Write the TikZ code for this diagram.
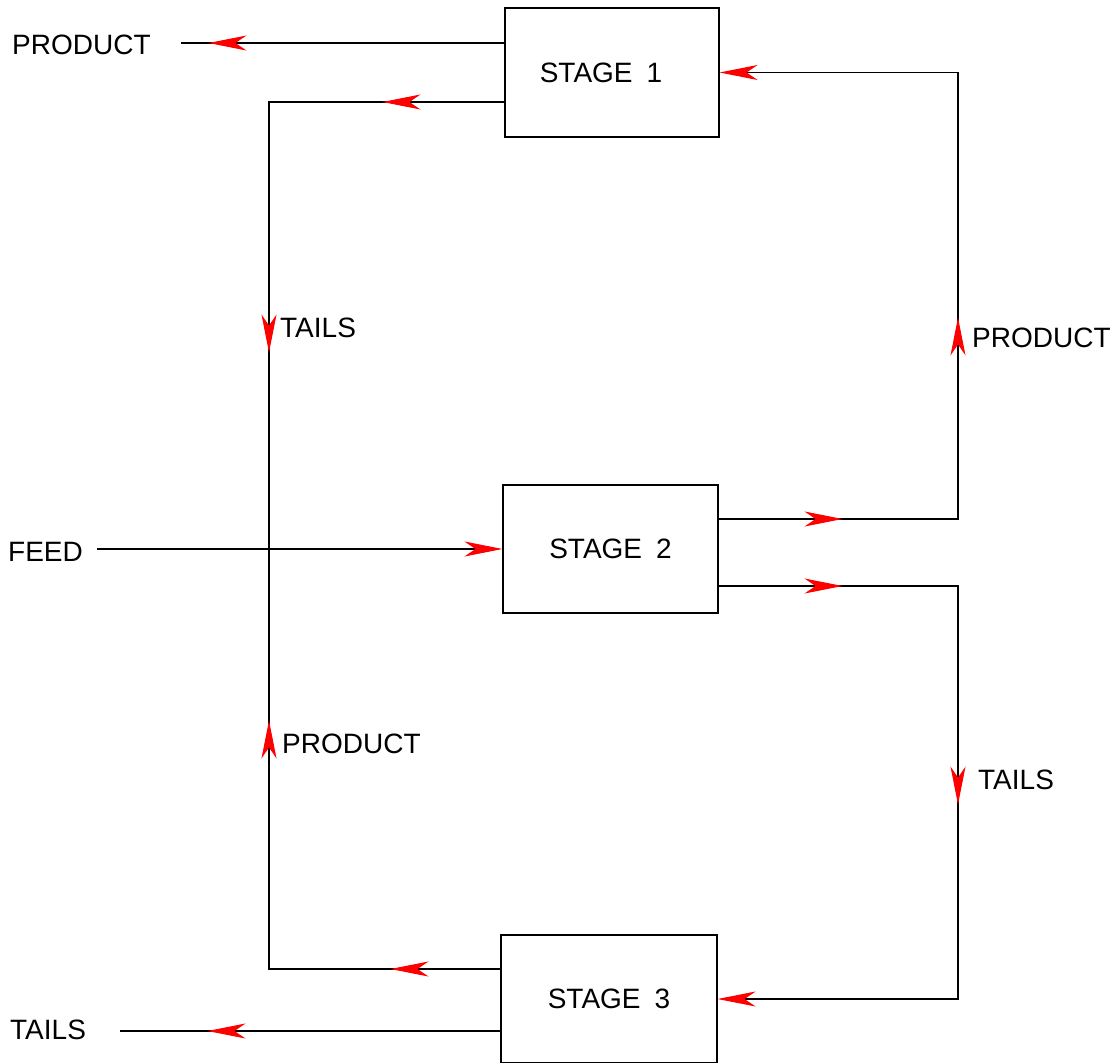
\documentclass[tikz,border=0pt]{standalone}
\usepackage{fontspec}
\setmainfont{Liberation Sans}
\usetikzlibrary{arrows.meta,decorations.markings}
\tikzset{
  box/.style={draw, line width=1.1pt, inner sep=0pt, font=\fontsize{28}{30}\selectfont},
  lbl/.style={anchor=base west, inner sep=0pt, font=\fontsize{28}{30}\selectfont},
  wire/.style={line width=1.1pt},
  rtip/.tip={Stealth[red,length=38pt,width=15pt,inset=11pt]},
  endarr/.style={-{rtip}},
  markat/.style={postaction={decorate}, decoration={markings, mark=at position #1 with {\arrow{rtip}}}},
  markat2/.style 2 args={postaction={decorate}, decoration={markings, mark=at position #1 with {\arrow{rtip}}, mark=at position #2 with {\arrow{rtip}}}}
}
\begin{document}
\begin{tikzpicture}[x=1pt,y=-1pt]
\useasboundingbox (0,0) rectangle (1120,1063);
% stages
\node[box, minimum width=214pt, minimum height=129pt] (s1) at (612,72.5) {STAGE\hspace{14pt}1\kern22pt};
\node[box, minimum width=215pt, minimum height=128pt] (s2) at (610.5,549) {STAGE\hspace{14pt}2};
\node[box, minimum width=216pt, minimum height=128pt] (s3) at (609,999) {STAGE\hspace{14pt}3};
% free ends and junction
\coordinate (p1) at (181,43);
\coordinate (j) at (269,549);
\coordinate (f) at (97,549);
\coordinate (t3) at (120,1031);
% connectors
\draw[wire, markat=296pt] (s1.west |- 0,43) -- (p1);
\draw[wire, markat2={122pt}{486pt}] (s1.west |- 0,102) -| (j);
\draw[wire, markat2={110pt}{480pt}] (s3.west |- 0,969) -| (j);
\draw[wire, endarr] (f) -- (s2.west);
\draw[wire, endarr, markat2={124pt}{441pt}] (s2.east |- 0,519) -- (958,519) |- (s1.east);
\draw[wire, endarr, markat2={124pt}{458pt}] (s2.east |- 0,586) -- (958,586) |- (s3.east);
\draw[wire, markat=293pt] (s3.west |- 0,1031) -- (t3);
% labels
\node[lbl] (l1) at (12,54) {PRODUCT};
\node[lbl] (l2) at (280,337) {TAILS};
\node[lbl] (l3) at (972,347) {PRODUCT};
\node[lbl] (l4) at (8,561) {FEED};
\node[lbl] (l5) at (282,753) {PRODUCT};
\node[lbl] (l6) at (978,789) {TAILS};
\node[lbl] (l7) at (10,1039) {TAILS};
\end{tikzpicture}
\end{document}
